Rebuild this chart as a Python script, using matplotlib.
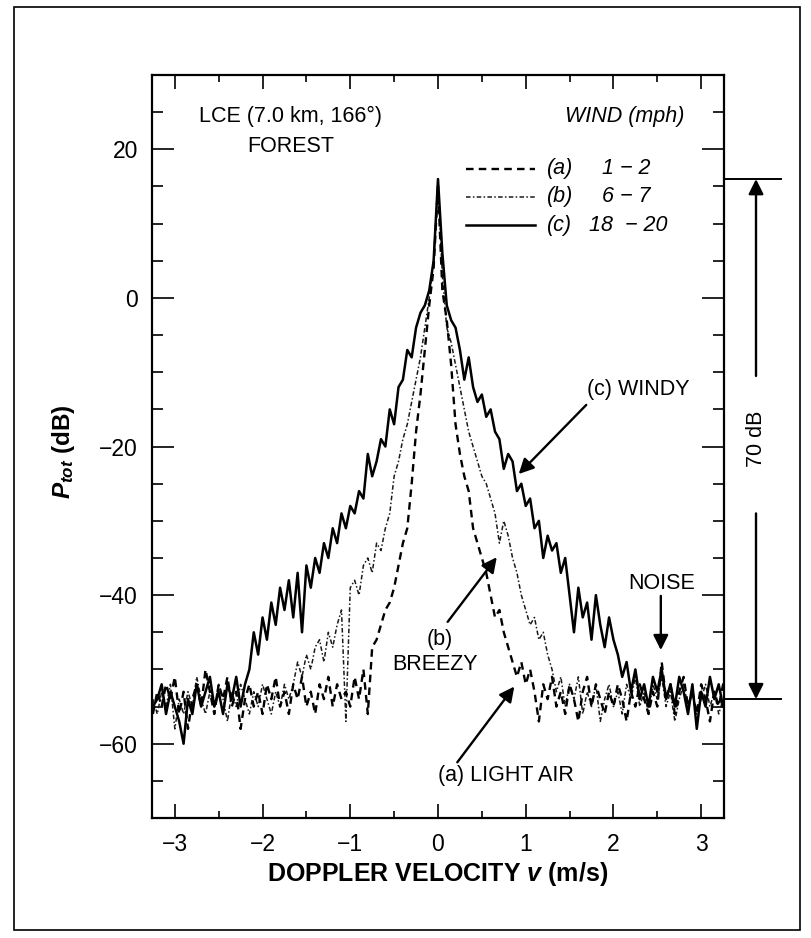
import numpy as np
import matplotlib
matplotlib.use('Agg')
import matplotlib.pyplot as plt
from matplotlib.ticker import MultipleLocator
from matplotlib.patches import Rectangle

plt.rcParams['font.family'] = 'Liberation Sans'
plt.rcParams['mathtext.fontset'] = 'custom'
plt.rcParams['mathtext.it'] = 'Liberation Sans:italic:bold'
plt.rcParams['mathtext.rm'] = 'Liberation Sans:bold'
plt.rcParams['mathtext.bf'] = 'Liberation Sans:bold'

# Doppler bins start at -3.25 m/s, 0.05 m/s apart
v_start = -3.25
v_step = 0.05

# total received power (dB) per bin
p_light = [
    -56, -53, -55, -52, -54, -51, -56, -53, -58, -54,
    -52, -55, -50, -53, -56, -52, -54, -51, -55, -53,
    -58, -54, -52, -55, -53, -56, -52, -54, -51, -55,
    -53, -56, -52, -54, -51, -55, -53, -56, -52, -54,
    -51, -55, -52, -54, -53, -55, -51, -54, -50, -56,
    -47, -46, -44, -42, -41, -39, -36, -33, -31, -25,
    -18, -13, -7, -1, 4, 15, 1, -3, -9, -17,
    -21, -24, -26, -31, -33, -35, -37, -40, -43, -42,
    -45, -47, -49, -51, -49, -52, -50, -53, -57, -52,
    -54, -51, -55, -53, -56, -52, -54, -57, -53, -51,
    -55, -52, -54, -56, -53, -55, -52, -54, -57, -53,
    -55, -52, -54, -56, -53, -55, -49, -54, -52, -56,
    -53, -51, -55, -53, -56, -52, -54, -57, -53, -55,
    -52, -54,
]

p_breezy = [
    -54, -56, -53, -55, -52, -58, -54, -56, -53, -55,
    -51, -54, -56, -53, -55, -52, -54, -57, -53, -55,
    -52, -54, -56, -53, -55, -52, -54, -56, -53, -55,
    -52, -54, -52, -49, -51, -48, -50, -47, -46, -49,
    -45, -47, -44, -42, -57, -39, -38, -40, -36, -35,
    -37, -33, -34, -31, -29, -24, -22, -19, -17, -14,
    -11, -8, -4, 0, 5, 15, 3, -4, -6, -9,
    -12, -15, -18, -20, -22, -24, -25, -27, -29, -33,
    -30, -32, -35, -37, -40, -42, -44, -43, -46, -45,
    -48, -50, -53, -51, -55, -52, -54, -51, -56, -53,
    -55, -52, -57, -54, -52, -55, -53, -56, -52, -54,
    -51, -55, -53, -56, -52, -54, -51, -55, -53, -57,
    -54, -52, -55, -53, -56, -54, -52, -55, -53, -56,
    -54, -52,
]

p_windy = [
    -55, -54, -52, -56, -53, -55, -57, -60, -54, -56,
    -52, -55, -53, -51, -55, -53, -56, -52, -54, -51,
    -55, -52, -50, -45, -48, -43, -46, -41, -44, -39,
    -42, -38, -43, -37, -45, -36, -39, -35, -37, -33,
    -35, -31, -33, -29, -31, -28, -29, -26, -27, -21,
    -24, -22, -19, -20, -15, -17, -12, -11, -7, -8,
    -4, -2, -1, 1, 5, 16, 6, -1, -3, -4,
    -7, -11, -8, -12, -14, -13, -16, -15, -18, -19,
    -23, -21, -22, -26, -25, -28, -27, -31, -30, -35,
    -32, -34, -33, -37, -35, -40, -45, -39, -43, -41,
    -46, -40, -44, -47, -43, -46, -48, -51, -49, -53,
    -50, -54, -52, -55, -51, -53, -50, -54, -52, -55,
    -51, -53, -56, -52, -58, -53, -55, -51, -54, -52,
    -55, -53,
]

case_tags = ['(a)', '(b)', '(c)']
wind_mph = ['1 \u2212 2', '6 \u2212 7', '18  \u2212 20']
peak_db = 16
noise_db = -54

v = v_start + v_step * np.arange(len(p_windy))

fig = plt.figure(figsize=(8.12, 9.38), dpi=100)
ax = fig.add_axes([0.1872, 0.1279, 0.7044, 0.7921])

styles = [
    dict(color='k', lw=1.7, ls=(0, (3.2, 2.2))),
    dict(color='0.1', lw=1.1, ls=(0, (3, 1.5, 1, 1.5))),
    dict(color='k', lw=1.8, ls='-'),
]
series = [p_light, p_breezy, p_windy]
for k in (1, 0, 2):
    ax.plot(v, series[k], **styles[k])

ax.set_xlim(-3.26, 3.26)
ax.set_ylim(-70, 30)
ax.xaxis.set_major_locator(MultipleLocator(1))
ax.xaxis.set_minor_locator(MultipleLocator(0.5))
ax.yaxis.set_major_locator(MultipleLocator(20))
ax.yaxis.set_minor_locator(MultipleLocator(5))
ax.tick_params(which='both', direction='in', top=True, right=True, width=1.2,
               labelsize=16.5)
ax.tick_params(axis='x', which='major', length=10, pad=11)
ax.tick_params(axis='x', which='minor', length=5)
ax.tick_params(axis='y', which='major', length=16, pad=10)
ax.tick_params(axis='y', which='minor', length=8)
for s in ax.spines.values():
    s.set_linewidth(1.6)

ax.text(0.5, -0.076, r'DOPPLER VELOCITY $v$ (m/s)', transform=ax.transAxes,
        ha='center', va='center', fontsize=18, fontweight='bold')
ax.text(-0.155, 0.493, r'$P_{tot}$ (dB)', transform=ax.transAxes, rotation=90,
        ha='center', va='center', fontsize=17.5, fontweight='bold')

# site note and legend block
ax.text(-1.68, 24.4, 'LCE (7.0 km, 166\u00b0)', ha='center', va='center', fontsize=15.5)
ax.text(-1.68, 20.4, 'FOREST', ha='center', va='center', fontsize=15.5)
ax.text(2.13, 24.4, 'WIND (mph)', ha='center', va='center', fontsize=15.5,
        style='italic')
row_db = [17.4, 13.6, 9.8]
for k in range(3):
    ax.plot([0.32, 1.11], [row_db[k], row_db[k]], **styles[k])
    ax.text(1.24, row_db[k], case_tags[k], ha='left', va='center', fontsize=15.5,
            style='italic')
    ax.text(1.87 if k < 2 else 1.72, row_db[k], wind_mph[k], ha='left',
            va='center', fontsize=15.5, style='italic')

arrow = dict(arrowstyle='-|>,head_length=0.5,head_width=0.25', color='k',
             lw=1.7, mutation_scale=18, shrinkA=0, shrinkB=0)
ax.text(2.28, -12.3, '(c) WINDY', ha='center', va='center', fontsize=15.5)
ax.annotate('', xy=(0.92, -23.7), xytext=(1.69, -14.4), arrowprops=arrow)
ax.text(0.02, -46.0, '(b)', ha='center', va='center', fontsize=15.5)
ax.text(-0.03, -49.4, 'BREEZY', ha='center', va='center', fontsize=15.5)
ax.annotate('', xy=(0.67, -34.9), xytext=(0.11, -43.6), arrowprops=arrow)
ax.text(0.78, -64.3, '(a) LIGHT AIR', ha='center', va='center', fontsize=15.5)
ax.annotate('', xy=(0.87, -52.3), xytext=(0.22, -62.5), arrowprops=arrow)
ax.text(2.55, -38.4, 'NOISE', ha='center', va='center', fontsize=15.5)
ax.annotate('', xy=(2.54, -47.4), xytext=(2.54, -40.1), arrowprops=arrow)

# 70 dB span marker to the right of the frame
tr = ax.get_yaxis_transform()
for yv in (peak_db, noise_db):
    ax.plot([1.0, 1.10], [yv, yv], transform=tr, clip_on=False, color='k', lw=1.4)
span_mid = (peak_db + noise_db) / 2
ax.annotate('', xy=(1.056, peak_db), xytext=(1.056, span_mid + 8.5),
            xycoords=tr, textcoords=tr, arrowprops=arrow)
ax.annotate('', xy=(1.056, noise_db), xytext=(1.056, span_mid - 10),
            xycoords=tr, textcoords=tr, arrowprops=arrow)
ax.text(1.056, span_mid, f'{peak_db - noise_db} dB', transform=tr, rotation=90,
        ha='center', va='center', fontsize=15.5)

fig.add_artist(Rectangle((0.0172, 0.0085), 0.968, 0.984, transform=fig.transFigure,
                         fill=False, lw=1.2, color='k'))

fig.savefig('out.png', dpi=100)
